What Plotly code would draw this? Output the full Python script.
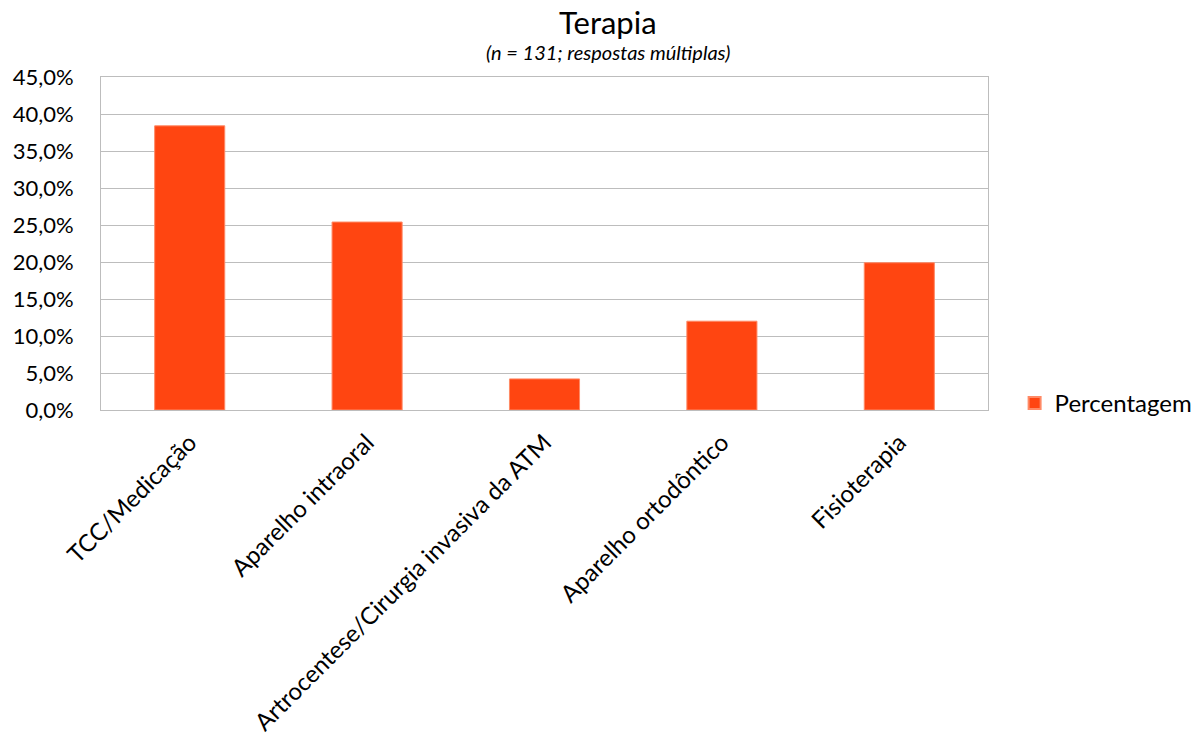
import plotly.graph_objects as go

# Therapy categories and share of responses (%)
categorias = [
    "TCC/Medicação",
    "Aparelho intraoral",
    "Artrocentese/Cirurgia invasiva da ATM",
    "Aparelho ortodôntico",
    "Fisioterapia",
]
percentagem = [38.4, 25.4, 4.2, 12.0, 19.9]

y_ticks = [0, 5, 10, 15, 20, 25, 30, 35, 40, 45]
y_tick_labels = ["0,0%", "5,0%", "10,0%", "15,0%", "20,0%",
                 "25,0%", "30,0%", "35,0%", "40,0%", "45,0%"]

FONT = "Lato"
BAR_COLOR = "#FF4511"
GRID = "#BDBDBD"

fig = go.Figure(
    go.Bar(
        x=categorias,
        y=percentagem,
        name="Percentagem",
        marker=dict(color=BAR_COLOR, line=dict(color="#FF8A66", width=1)),
        showlegend=True,
    )
)

fig.update_layout(
    width=1203,
    height=740,
    paper_bgcolor="white",
    plot_bgcolor="white",
    margin=dict(l=101, r=215, t=77, b=330, autoexpand=False),
    bargap=0.605,
    font=dict(family=FONT, size=22, color="#000000"),
    legend=dict(
        x=1.030,
        y=0.02,
        xanchor="left",
        yanchor="middle",
        font=dict(family=FONT, size=24),
        itemsizing="constant",
        bgcolor="rgba(0,0,0,0)",
    ),
    annotations=[
        dict(
            text="Terapia",
            x=0.572, y=1.165, xref="paper", yref="paper",
            xanchor="center", yanchor="middle", showarrow=False,
            font=dict(family=FONT, size=31, color="#000000"),
        ),
        dict(
            text="<i>(n = 131; respostas múltiplas)</i>",
            x=0.572, y=1.075, xref="paper", yref="paper",
            xanchor="center", yanchor="middle", showarrow=False,
            font=dict(family=FONT, size=20, color="#000000"),
        ),
    ],
)

fig.update_xaxes(
    tickangle=-45,
    showline=True,
    linecolor=GRID,
    linewidth=1,
    mirror=True,
    showgrid=False,
    ticks="",
    ticklabelstandoff=8,
    tickfont=dict(family=FONT, size=24),
)

fig.update_yaxes(
    range=[0, 45],
    tickvals=y_ticks,
    ticktext=y_tick_labels,
    showline=True,
    linecolor=GRID,
    linewidth=1,
    mirror=True,
    showgrid=True,
    gridcolor=GRID,
    gridwidth=1,
    zeroline=False,
    ticks="",
    ticklabelstandoff=22,
    tickfont=dict(family=FONT, size=22),
)

fig.write_html("out.html")
